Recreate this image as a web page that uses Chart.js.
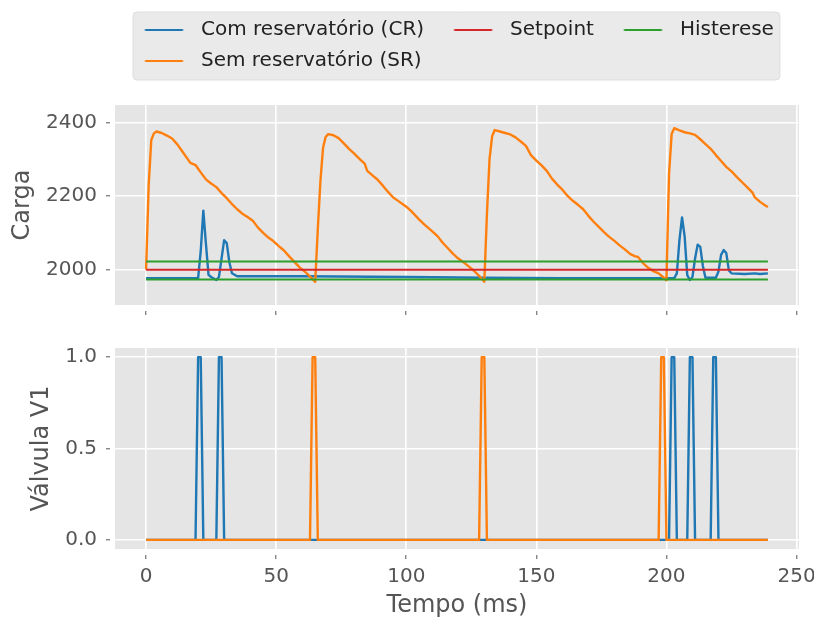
<!DOCTYPE html>
<html>
<head>
<meta charset="utf-8">
<script src="https://cdn.jsdelivr.net/npm/chart.js@4.4.0/dist/chart.umd.min.js"></script>
<style>
body{margin:0;background:#fff;}
#wrap{position:relative;width:814px;height:622px;}
canvas{position:absolute;left:0;}
#cima{top:0;}
#baixo{top:330px;}
</style>
</head>
<body>
<div id="wrap">
<canvas id="cima" width="814" height="330"></canvas>
<canvas id="baixo" width="814" height="292"></canvas>
</div>
<script>

// carga - sem reservatorio (SR)
let tempoSR=[0,1,2,3,4,6,8,10,12,14,16,17,19,21,23,25,27,29,31,33,35,37,39,41,43,45,47,49,51,53,55,57,59,61,63,65,
66,67,68,69,70,72,74,76,78,80,82,84,85,87,89,91,93,95,97,100,102,105,107,110,112,114,116,118,120,122,124,126,128,130,
131,132,133,134,136,138,140,142,144,146,148,150,152,154,156,158,160,162,164,166,168,170,172,174,176,178,180,182,184,186,188,189,191,193,195,197,199,200,
201,202,203,205,207,209,211,213,215,217,219,221,223,225,227,229,231,233,234,236,238,239];
let cargaSR=[2000,2230,2352,2370,2375,2371,2364,2356,2340,2320,2300,2290,2284,2264,2245,2234,2224,2208,2194,2178,2164,2152,2143,2133,2114,2100,2087,2077,2064,2052,2036,2021,2006,1995,1981,1967,
2110,2240,2330,2360,2368,2365,2357,2343,2328,2315,2301,2288,2268,2256,2244,2228,2211,2196,2186,2171,2158,2136,2122,2104,2091,2073,2058,2043,2030,2020,2009,1997,1983,1967,
2150,2300,2362,2379,2375,2371,2367,2359,2348,2336,2310,2296,2283,2268,2247,2231,2217,2200,2187,2176,2164,2146,2130,2116,2102,2089,2078,2066,2055,2043,2036,2035,2018,2005,1996,1990,1978,1971,
2260,2368,2384,2378,2373,2370,2366,2354,2341,2328,2311,2295,2279,2267,2252,2238,2224,2210,2196,2184,2174,2170];

// carga - com reservatorio (CR)
let tempoCR=[0,20,21,22,23,24,25,27,28,29,30,31,32,33,35,60,100,130,160,203,204,205,206,207,208,209,210,211,212,213,214,215,219,220,221,222,223,224,225,230,234,236,239];
let cargaCR=[1977,1977,2050,2160,2070,1986,1980,1972,1980,2030,2080,2072,2020,1990,1982,1982,1980,1978,1977,1977,1990,2080,2142,2090,1985,1972,1980,2030,2068,2062,2010,1978,1978,1995,2040,2053,2045,1998,1990,1988,1990,1988,1990];

// valvula V1
let tempoValvCR=[0,19,20,21,22,27,28,29,30,201,202,203,204,208,209,210,211,217,218,219,220,239];
let valvCR=[0,0,1,1,0,0,1,1,0,0,1,1,0,0,1,1,0,0,1,1,0,0];
let tempoValvSR=[0,63,64,65,66,128,129,130,131,197,198,199,200,239];
let valvSR=[0,0,1,1,0,0,1,1,0,0,1,1,0,0];

let setpoint=2000;
let histerese=[2022,1973];
let tempoLimites=[0,239];

let xTicks=[0,50,100,150,200,250];
let cargaTicks=[2000,2200,2400];
let valvTicks=[0,0.5,1];

const fonte="'DejaVu Sans', sans-serif";
const cinza="#555555";
const azul="#1f77b4", laranja="#ff7f0e", vermelho="#d62728", verde="#2ca02c";

function pontos(xs,ys){
return xs.map((x,i)=>({x:x,y:ys[i]}));
}

// traco da legenda: imagem usada como pointStyle
function linhaLegenda(cor){
let c=document.createElement("canvas");
c.width=52; c.height=6;
let g=c.getContext("2d");
g.strokeStyle=cor; g.lineWidth=2.2;
g.beginPath(); g.moveTo(12.5,3); g.lineTo(50.5,3); g.stroke();
return c;
}

const fundo={
id:"fundo",
beforeDraw(chart){
let a=chart.chartArea, ctx=chart.ctx;
ctx.save();
ctx.fillStyle="#E5E5E5";
ctx.fillRect(a.left,a.top,a.right-a.left,a.bottom-a.top);
ctx.restore();
}
};

const caixaLegenda={
id:"caixaLegenda",
beforeDraw(chart){
let lg=chart.legend;
if(!lg || !lg.options.display || !lg.lineWidths) return;
let pad=lg.options.labels.padding;
let x0=lg.left+pad+19-12;
let x1=lg.left+lg.lineWidths[0]+6;
let y0=lg.top+3;
let y1=lg.top+lg.height-1;
let ctx=chart.ctx;
ctx.save();
ctx.fillStyle="#EAEAEA";
ctx.strokeStyle="#DDDDDD";
ctx.lineWidth=1;
ctx.beginPath();
ctx.roundRect(x0,y0,x1-x0,y1-y0,4);
ctx.fill(); ctx.stroke();
ctx.restore();
}
};

function semPadding(s){
s.paddingLeft=0; s.paddingRight=0; s.paddingTop=0; s.paddingBottom=0;
}

function eixoX(rotulos,altura){
return {
type:"linear", min:-11.95, max:250.95,
afterBuildTicks(s){ s.ticks=xTicks.map(v=>({value:v})); },
afterFit(s){ s.height=altura; semPadding(s); },
grid:{color:"#FFFFFF",lineWidth:1.6,drawTicks:true,tickLength:10,tickColor:cinza,tickWidth:1,tickBorderDash:[0,6,4,20]},
border:{display:false},
ticks:{color:rotulos?cinza:"rgba(0,0,0,0)",font:{family:fonte,size:20},padding:6,maxRotation:0},
title:{display:rotulos,text:"Tempo (ms)",color:cinza,font:{family:fonte,size:24},padding:{top:0,bottom:2}}
};
}

function eixoY(min,max,ticks,titulo,padTitulo,fmt){
return {
type:"linear", min:min, max:max,
afterBuildTicks(s){ s.ticks=ticks.map(v=>({value:v})); },
afterFit(s){ s.width=115; semPadding(s); },
grid:{color:"#FFFFFF",lineWidth:1.6,drawTicks:true,tickLength:9,tickColor:cinza,tickWidth:1,tickBorderDash:[4,20]},
border:{display:false},
ticks:{color:cinza,font:{family:fonte,size:20},padding:9,callback:fmt},
title:{display:true,text:titulo,color:cinza,font:{family:fonte,size:24},padding:{top:padTitulo,bottom:0}}
};
}

function serie(label,dados,cor,larg,ordem){
return {label:label,data:dados,borderColor:cor,backgroundColor:cor,borderWidth:larg,pointRadius:0,tension:0,
borderJoinStyle:"round",fill:false,order:ordem};
}

let ordemLegenda=[0,2,3,1];

new Chart(document.getElementById("cima"),{
type:"line",
data:{datasets:[
serie("Com reservatório (CR)",pontos(tempoCR,cargaCR),azul,2.4,5),
serie("Sem reservatório (SR)",pontos(tempoSR,cargaSR),laranja,2.4,4),
serie("Setpoint",pontos(tempoLimites,[setpoint,setpoint]),vermelho,2,3),
serie("Histerese",pontos(tempoLimites,[histerese[0],histerese[0]]),verde,2,2),
serie("Histerese inf",pontos(tempoLimites,[histerese[1],histerese[1]]),verde,2,1)
]},
options:{
responsive:false, animation:false, devicePixelRatio:1,
layout:{padding:{top:9,right:15,left:0,bottom:0}},
scales:{
x:eixoX(false,25),
xTopo:{type:"linear",position:"top",display:true,grid:{display:false},border:{display:false},ticks:{display:false},
afterFit(s){ s.height=24; semPadding(s); }},
y:eixoY(1904,2447,cargaTicks,"Carga",8.6,v=>String(v))
},
plugins:{
tooltip:{enabled:false},
legend:{
display:true, position:"top", align:"start", fullSize:false,
labels:{
usePointStyle:true, pointStyleWidth:65, boxHeight:6, padding:11, color:"#222222",
font:{family:fonte,size:20},
generateLabels(chart){
return ordemLegenda.map(i=>{
let ds=chart.data.datasets[i];
return {text:ds.label,pointStyle:linhaLegenda(ds.borderColor),datasetIndex:i,lineWidth:0,hidden:false,
fillStyle:ds.borderColor,strokeStyle:ds.borderColor,fontColor:"#222222"};
});
}
}
}
}
},
plugins:[fundo,caixaLegenda]
});

new Chart(document.getElementById("baixo"),{
type:"line",
data:{datasets:[
serie("Com reservatório (CR)",pontos(tempoValvCR,valvCR),azul,2.4,2),
serie("Sem reservatório (SR)",pontos(tempoValvSR,valvSR),laranja,2.4,1)
]},
options:{
responsive:false, animation:false, devicePixelRatio:1,
layout:{padding:{top:18,right:15,left:0,bottom:0}},
scales:{
x:eixoX(true,73),
y:eixoY(-0.05,1.05,valvTicks,"Válvula V1",27.3,v=>v.toFixed(1))
},
plugins:{tooltip:{enabled:false},legend:{display:false}}
},
plugins:[fundo]
});

</script>
</body>
</html>
